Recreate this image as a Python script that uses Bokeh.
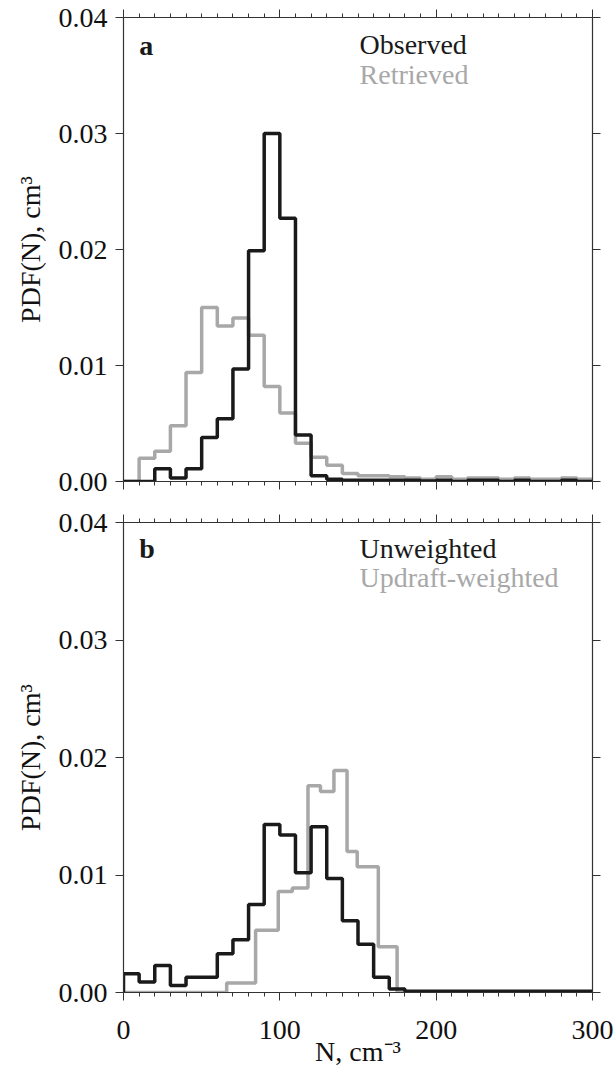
from bokeh.plotting import figure
from bokeh.layouts import column
from bokeh.models import (LinearAxis, SingleIntervalTicker, PrintfTickFormatter,
                          CustomJSTickFormatter, Range1d, Label)
from bokeh.embed import file_html
from bokeh.resources import INLINE

# ---------------- data ----------------
bin_edges_10 = list(range(0, 310, 10))  # 0..300, width 10

observed = [0, 0, 0.0011, 0.0003, 0.0011, 0.0038, 0.0054, 0.0097, 0.0199, 0.0300,
            0.0227, 0.0040, 0.0005, 0.0002, 0.0001, 0.0001, 0.0001, 0.0001, 0.0001, 0.00005,
            0.0001, 0.0, 0.0001, 0.0001, 0.0, 0.0001, 0.0, 0.0, 0.0001, 0.0]
retrieved = [0, 0.0020, 0.0026, 0.0048, 0.0094, 0.0150, 0.0134, 0.0141, 0.0126, 0.0082,
             0.0059, 0.0033, 0.0021, 0.0014, 0.0007, 0.0005, 0.0005, 0.0004, 0.0003, 0.0002,
             0.0004, 0.0002, 0.0003, 0.0003, 0.0002, 0.0003, 0.0002, 0.0002, 0.0003, 0.0002]

unweighted = [0.0016, 0.0009, 0.0023, 0.0006, 0.0013, 0.0013, 0.0033, 0.0045, 0.0075, 0.0143,
              0.0134, 0.0102, 0.0141, 0.0097, 0.0061, 0.0041, 0.0013, 0.0003, 0.0001, 0.0001,
              0.0001, 0.0001, 0.0001, 0.0001, 0.0001, 0.0001, 0.0001, 0.0001, 0.0001, 0.0001]
updraft_edges = [0, 66, 84.5, 99, 108, 118, 126, 134.6, 143, 149.5, 163, 175, 300]
updraft_weighted = [0, 0.0008, 0.0053, 0.0086, 0.0089, 0.0176, 0.0171, 0.0189, 0.0120,
                    0.0107, 0.0039, 0]

BLACK = "#1a1a1a"
GRAY = "#a8a8a8"
FONT = "Liberation Serif"
FS = "28px"


def step_path(edges, vals):
    xs, ys = [edges[0]], [0.0]
    for i, v in enumerate(vals):
        xs += [edges[i], edges[i + 1]]
        ys += [v, v]
    xs.append(edges[-1])
    ys.append(0.0)
    return xs, ys


def make_fig(height, top, bottom, show_xlabels):
    p = figure(width=614, height=height, output_backend="svg", toolbar_location=None,
               x_range=Range1d(0, 300), y_range=Range1d(0, 0.04),
               x_axis_location=None, y_axis_location=None,
               min_border_left=123, min_border_right=22,
               min_border_top=top, min_border_bottom=bottom)
    p.outline_line_color = None
    p.xgrid.visible = False
    p.ygrid.visible = False

    def style(ax, labels):
        ax.axis_line_color = "#333333"
        ax.axis_line_width = 1.2
        ax.major_tick_line_color = "#333333"
        ax.minor_tick_line_color = "#333333"
        ax.major_tick_in = 0
        ax.major_tick_out = 8
        ax.minor_tick_in = 0
        ax.minor_tick_out = 4
        ax.major_label_text_font = FONT
        ax.major_label_text_color = "#111111"
        ax.major_label_text_font_size = FS
        ax.axis_label_text_font = FONT
        ax.axis_label_text_font_style = "normal"
        ax.axis_label_text_color = "#111111"
        if not labels:
            ax.formatter = CustomJSTickFormatter(code="return '';")
            ax.major_label_standoff = 0

    for loc, lab in (("below", show_xlabels), ("above", False)):
        ax = LinearAxis(ticker=SingleIntervalTicker(interval=100, num_minor_ticks=10))
        style(ax, lab)
        if loc == "below" and show_xlabels:
            ax.axis_label = "N, cm\u207b\u00b3"
            ax.axis_label_text_font_size = FS
            ax.major_label_standoff = 20
            ax.axis_label_standoff = -6
        p.add_layout(ax, loc)

    for loc, lab in (("left", True), ("right", False)):
        ax = LinearAxis(ticker=SingleIntervalTicker(interval=0.01, num_minor_ticks=0),
                        formatter=PrintfTickFormatter(format="%.2f"))
        style(ax, lab)
        ax.minor_tick_out = 0
        if loc == "left":
            ax.axis_label = "PDF(N), cm\u00b3"
            ax.axis_label_text_font_size = FS
            ax.major_label_standoff = 8
            ax.axis_label_standoff = 10
        p.add_layout(ax, loc)
    return p


pa = make_fig(502, 17, 21, False)
xs, ys = step_path(bin_edges_10, retrieved)
pa.line(xs, ys, line_color=GRAY, line_width=3.5)
xs, ys = step_path(bin_edges_10, observed)
pa.line(xs, ys, line_color=BLACK, line_width=3.5)

pa.add_layout(Label(x=10, y=0.0376, text="a", text_font=FONT, text_font_size=FS,
                    text_font_style="bold", text_color=BLACK, text_baseline="middle"))
pa.add_layout(Label(x=151, y=0.0377, text="Observed", text_font=FONT, text_font_size=FS,
                    text_color=BLACK, text_baseline="middle"))
pa.add_layout(Label(x=151, y=0.0351, text="Retrieved", text_font=FONT, text_font_size=FS,
                    text_color=GRAY, text_baseline="middle"))

pb = make_fig(568, 20, 78, True)
xs, ys = step_path(updraft_edges, updraft_weighted)
pb.line(xs, ys, line_color=GRAY, line_width=3.5)
xs, ys = step_path(bin_edges_10, unweighted)
pb.line(xs, ys, line_color=BLACK, line_width=3.5)

pb.add_layout(Label(x=10, y=0.0378, text="b", text_font=FONT, text_font_size=FS,
                    text_font_style="bold", text_color=BLACK, text_baseline="middle"))
pb.add_layout(Label(x=151, y=0.0378, text="Unweighted", text_font=FONT, text_font_size=FS,
                    text_color=BLACK, text_baseline="middle"))
pb.add_layout(Label(x=151, y=0.0353, text="Updraft-weighted", text_font=FONT, text_font_size=FS,
                    text_color=GRAY, text_baseline="middle"))

layout = column(pa, pb, spacing=0)
open("out.html", "w").write(file_html(layout, INLINE))
